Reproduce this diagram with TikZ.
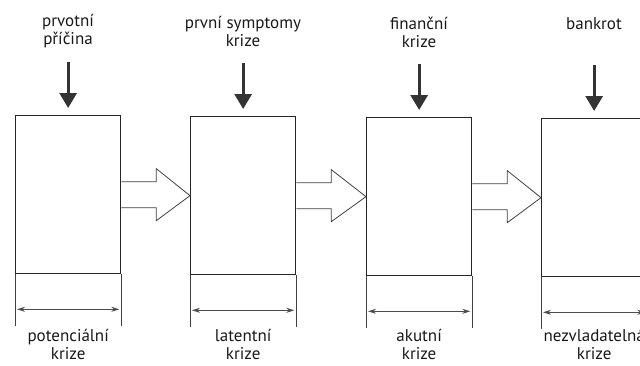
\documentclass[tikz,border=0pt]{standalone}
\usepackage{fontspec}
\setmainfont{PT Sans}
\usetikzlibrary{calc,arrows.meta}
\begin{document}
\begin{tikzpicture}[x=1pt,y=-1pt,
  box/.style={draw=black!85,line width=1.3pt,minimum width=105pt,minimum height=158pt,inner sep=0pt,anchor=north west},
  lbl/.style={align=center,font=\fontsize{17}{18}\selectfont,text=black!90,inner sep=0pt},
  down/.style={draw=black!80,line width=3pt,-{Triangle[length=15pt,width=17pt]},shorten >=7pt},
  dim/.style={draw=black!70,line width=0.8pt,{Stealth[length=8pt,width=5pt]}-{Stealth[length=8pt,width=5pt]}},
  ext/.style={draw=black!75,line width=0.8pt},
  blk/.style={draw=black!75,line width=0.8pt,fill=white}]
\useasboundingbox (0,0) rectangle (640,365);
\clip (0,0) rectangle (640,365);
% boxes
\node[box] (b1) at (15,115) {};
\node[box] (b2) at (190,116) {};
\node[box] (b3) at (366,117) {};
\node[box] (b4) at (541,118) {};
% top labels
\node[lbl] (t1) at (68,31) {prvotní\\příčina};
\node[lbl] (t2) at (243,31) {první symptomy\\krize};
\node[lbl] (t3) at (419,32) {finanční\\krize};
\node[lbl] (t4) at (594,24) {bankrot};
% bottom labels
\foreach \i/\t/\dy in {1/potenciální/70,2/latentní/69,3/akutní/68,4/nezvladatelná/67}{
  \node[lbl] (l\i) at ($(b\i.south)+(0,\dy)$) {\t\\krize};
  \coordinate (s\i) at ($(b\i.north)+(0,-53)$);
  \draw[down] (s\i) -- (b\i.north);
  \draw[ext] (b\i.south west) -- ++(0,52);
  \draw[ext] (b\i.south east) -- ++(0,52);
  \draw[dim] ($(b\i.south west)+(2,35)$) -- ($(b\i.south east)+(-2,35)$);
}
% block arrows
\foreach \a/\b in {1/2,2/3,3/4}{
  \path[blk] ($(b\a.east)+(0,-13)$) -- ($(b\a.east)+(35,-13)$) -- ($(b\a.east)+(35,-26)$)
    -- (b\b.west) -- ($(b\a.east)+(35,26)$) -- ($(b\a.east)+(35,13)$) -- ($(b\a.east)+(0,13)$);
}
\end{tikzpicture}
\end{document}
